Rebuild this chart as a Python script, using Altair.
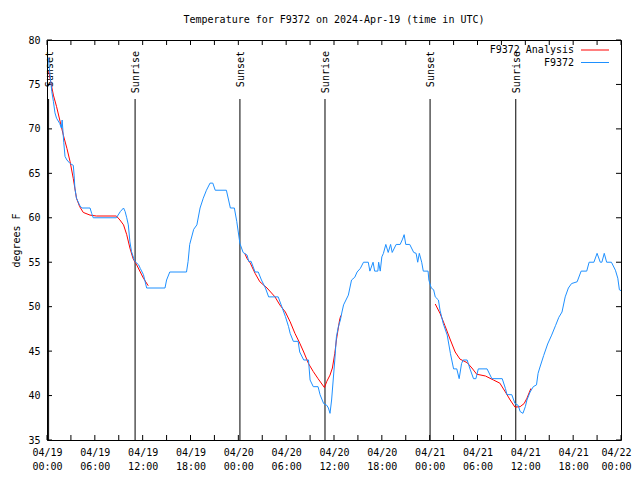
import altair as alt
import pandas as pd

# ---- data (hours after 2024-04-19 00:00 UTC) ----
obs_hours = [0.17, 0.3, 0.45, 0.6, 0.8, 1.0, 1.2, 1.6, 1.8, 1.9, 2.1, 2.26, 2.5, 2.9, 3.3, 3.4, 3.5, 3.7, 3.9, 4.1,
             4.35, 5.4, 5.6, 5.8, 8.7, 9.2, 9.6, 9.8, 10.0, 10.2, 10.4, 10.6, 11.0, 11.5, 11.7, 12.1, 12.5, 14.8, 15.0, 15.4,
             17.5, 17.7, 17.9, 18.4, 18.8, 19.2, 19.6, 20.0, 20.45, 20.8, 21.1, 22.5, 23.0, 23.5, 23.8, 24.2, 24.6, 25.1, 25.3, 25.6,
             26.1, 26.5, 26.9, 27.4, 27.8, 29.0, 29.45, 29.9, 30.3, 30.5, 30.9, 31.5, 31.7, 32.2, 32.8, 33.0, 33.4, 34.0, 34.25, 34.7,
             35.1, 35.3, 35.5, 35.7, 35.9, 36.1, 36.3, 36.55, 36.8, 37.0, 37.2, 37.8, 38.2, 38.6, 38.9, 39.3, 39.7, 40.3, 40.5, 40.9,
             41.1, 41.5, 41.6, 41.8, 42.0, 42.2, 42.5, 42.8, 43.1, 43.3, 43.8, 44.3, 44.6, 44.8, 45.0, 45.5, 46.0, 46.3, 46.5, 46.7,
             47.0, 47.2, 47.8, 47.9, 48.2, 48.5, 48.7, 49.1, 49.3, 49.7, 50.2, 50.6, 51.0, 51.4, 51.7, 52.0, 52.2, 52.7, 53.1, 53.5,
             53.8, 54.1, 55.2, 55.8, 57.1, 57.5, 57.7, 58.3, 58.7, 59.1, 59.35, 59.7, 60.0, 60.2, 60.6, 61.0, 61.4, 61.6, 61.8, 62.3,
             62.8, 63.3, 63.8, 64.2, 64.6, 65.0, 65.4, 65.8, 66.5, 67.0, 67.7, 68.0, 68.6, 69.0, 69.4, 69.6, 69.9, 70.2, 70.8, 71.3,
             71.6, 71.8, 72.0]
obs_temps = [78.0, 76.8, 75.5, 74.2, 73.1, 71.8, 71.2, 70.6, 70.1, 71.0, 68.5, 66.9, 66.5, 66.1, 65.9, 64.8, 63.3, 62.2, 61.8, 61.4,
             61.1, 61.1, 60.5, 60.0, 60.0, 60.7, 61.1, 60.7, 60.0, 59.2, 57.3, 56.2, 55.1, 54.7, 54.3, 53.6, 52.1, 52.1, 53.0, 53.9,
             53.9, 55.1, 57.0, 58.7, 59.2, 61.1, 62.2, 63.1, 63.9, 63.9, 63.1, 63.1, 61.1, 61.1, 59.6, 57.1, 56.1, 55.8, 55.1, 55.1,
             53.9, 53.9, 53.0, 52.1, 51.1, 51.1, 50.0, 48.9, 47.75, 47.0, 46.1, 46.1, 44.9, 44.0, 44.0, 41.75, 41.0, 41.0, 40.1, 39.1,
             38.9, 38.6, 38.0, 39.5, 41.75, 44.0, 46.6, 47.75, 48.5, 49.4, 50.2, 51.3, 53.0, 53.3, 53.9, 54.3, 55.0, 55.0, 54.0, 55.0,
             54.0, 54.0, 55.0, 54.0, 55.6, 56.0, 57.0, 56.1, 57.0, 56.1, 57.0, 57.0, 57.6, 58.1, 57.0, 57.0, 56.1, 56.0, 55.0, 56.0,
             55.0, 54.0, 54.0, 53.0, 52.1, 51.9, 51.1, 50.75, 49.6, 48.1, 46.8, 44.75, 43.0, 43.0, 41.9, 43.6, 44.0, 44.0, 42.9, 41.9,
             41.9, 43.0, 43.0, 41.9, 41.9, 40.8, 40.1, 40.1, 39.1, 38.9, 38.2, 38.0, 38.75, 39.5, 40.4, 41.0, 41.2, 42.5, 43.1, 44.5,
             45.8, 46.8, 47.9, 48.8, 49.4, 51.1, 52.1, 52.6, 52.8, 54.0, 54.0, 55.0, 55.0, 56.0, 55.0, 55.0, 56.0, 55.0, 55.0, 54.1,
             53.2, 51.9, 51.8]

ana_hours = [0.2, 0.38, 0.8, 1.2, 1.6, 2.05, 2.5, 2.9, 3.3, 3.7, 4.1, 4.55, 5.4, 6.2, 8.7, 9.15, 9.6, 10.0, 10.4, 10.8,
             11.25, 11.7, 12.1, 12.7,
             24.8, 25.1, 25.5, 26.1, 26.7, 27.6, 28.6, 29.2, 29.9, 30.5, 31.1, 31.7, 32.2, 32.8, 33.4, 34.0, 34.8, 35.1, 35.5, 35.8,
             36.1, 36.3, 36.7, 36.85,
             48.7, 49.3, 49.9, 50.6, 51.2, 51.8, 52.7, 53.3, 53.9, 55.0, 56.0, 56.8, 57.5, 58.1, 58.7, 59.35, 59.85, 60.2, 60.7]
ana_temps = [76.5, 75.7, 73.8, 72.5, 71.0, 69.3, 67.8, 66.3, 64.4, 62.2, 61.25, 60.6, 60.3, 60.2, 60.2, 59.75, 59.2, 58.1, 56.6, 55.4,
             54.7, 53.9, 53.2, 52.35,
             56.0, 55.4, 54.9, 53.75, 52.8, 52.1, 51.1, 50.2, 49.4, 48.3, 47.0, 45.9, 44.9, 43.6, 42.7, 41.9, 40.9, 41.6, 42.3, 43.1,
             44.75, 46.25, 48.5, 49.0,
             50.3, 49.25, 47.9, 46.25, 44.9, 44.1, 43.7, 43.1, 42.4, 42.2, 41.75, 41.4, 40.4, 39.5, 38.7, 38.75, 39.1, 39.7, 40.8]
ana_segments = [1] * 24 + [2] * 24 + [3] * 19

sun_hours = [0.2, 11.05, 24.2, 34.87, 48.05, 58.8]
sun_labels = ["Sunset", "Sunrise", "Sunset", "Sunrise", "Sunset", "Sunrise"]

x_label_hours = list(range(0, 73, 6))
x_tick_hours = list(range(0, 73, 3))
y_tick_values = list(range(35, 81, 5))

legend_labels = ["F9372 Analysis", "F9372"]
legend_colors = ["#FF0000", "#1E90FF"]

# ---- helpers ----
base = pd.Timestamp("2024-04-19T00:00:00")
def iso(h):
    return (base + pd.to_timedelta(h, unit="h")).strftime("%Y-%m-%dT%H:%M:%SZ")
def ms(h):
    return int((base + pd.to_timedelta(h, unit="h")).value // 10**6)

obs = pd.DataFrame({"time": [iso(h) for h in obs_hours], "temp": obs_temps})
ana = pd.DataFrame({"time": [iso(h) for h in ana_hours], "temp": ana_temps, "seg": ana_segments})
sun = pd.DataFrame({"time": [iso(h) for h in sun_hours], "label": sun_labels})
xt = pd.DataFrame({"time": [iso(h) for h in x_tick_hours]})
yt = pd.DataFrame({"v": y_tick_values})

FONT = "DejaVu Sans Mono"
W, H = 574, 400

xscale = alt.Scale(type="utc", domain=[ms(0), ms(72)], nice=False)
yscale = alt.Scale(domain=[35, 80], nice=False, zero=False)
xaxis = alt.Axis(values=[ms(h) for h in x_label_hours], title=None, grid=False, ticks=False, domain=False,
                 labelExpr="[utcFormat(datum.value, '%m/%d'), utcFormat(datum.value, '%H:%M')]",
                 labelPadding=7, labelLineHeight=14, labelBaseline="top", labelFlush=False,
                 labelOffset={"condition": {"test": f"datum.value >= {ms(72)}", "value": -5}, "value": 0},
                 labelFont=FONT, labelFontSize=10, labelColor="black")
yaxis = alt.Axis(values=y_tick_values, title="degrees F", titlePadding=6, labelPadding=7,
                 grid=False, ticks=False, domain=False,
                 labelFont=FONT, labelFontSize=10, labelColor="black",
                 titleFontWeight="normal", titleFontSize=10, titleFont=FONT, titleColor="black")

def X(field):
    return alt.X(field, scale=xscale, axis=xaxis)
def Y(field):
    return alt.Y(field, scale=yscale, axis=yaxis)

blue = alt.Chart(obs).mark_line(color="#1E90FF", strokeWidth=1).encode(x=X("time:T"), y=Y("temp:Q"))
red = alt.Chart(ana).mark_line(color="#FF0000", strokeWidth=1).encode(x=X("time:T"), y=Y("temp:Q"), detail="seg:N")

sun_rules = alt.Chart(sun).mark_rule(color="black", strokeWidth=1).encode(
    x=X("time:T"), y=alt.value(59), y2=alt.value(H))
sun_text = alt.Chart(sun).mark_text(angle=270, align="right", baseline="middle", font=FONT, fontSize=10,
                                    color="black", dy=1).encode(
    x=X("time:T"), y=alt.value(11), text="label:N")

xt_bottom = alt.Chart(xt).mark_rule(color="black").encode(x=X("time:T"), y=alt.value(H), y2=alt.value(H - 5))
xt_top = alt.Chart(xt).mark_rule(color="black").encode(x=X("time:T"), y=alt.value(0), y2=alt.value(5))
yt_left = alt.Chart(yt).mark_rule(color="black").encode(y=Y("v:Q"), x=alt.value(0), x2=alt.value(5))
yt_right = alt.Chart(yt).mark_rule(color="black").encode(y=Y("v:Q"), x=alt.value(W), x2=alt.value(W - 5))

leg_layers = []
for i, (lab, col) in enumerate(zip(legend_labels, legend_colors)):
    yy = 10 + 12.5 * i
    leg_df = pd.DataFrame({"label": [lab]})
    leg_layers.append(alt.Chart(leg_df).mark_text(align="right", baseline="middle", font=FONT, fontSize=10,
                                                  color="black").encode(
        x=alt.value(527), y=alt.value(yy), text="label:N"))
    leg_layers.append(alt.Chart(leg_df).mark_rule(color=col, strokeWidth=1).encode(
        x=alt.value(534), x2=alt.value(562), y=alt.value(yy)))

chart = alt.layer(xt_bottom, xt_top, yt_left, yt_right, sun_rules, sun_text, red, blue, *leg_layers).properties(
    width=W, height=H,
    title=alt.TitleParams("Temperature for F9372 on 2024-Apr-19 (time in UTC)", font=FONT, fontSize=10,
                          fontWeight="normal", anchor="middle", offset=10, color="black"),
    autosize=alt.AutoSizeParams(type="none"),
    padding={"left": 39, "top": 32, "right": 11, "bottom": 40},
    background="white",
).configure_view(stroke="black", strokeWidth=1).configure_axis(
    grid=False, ticks=False, domain=False
)

chart.save("out.html", embed_options={"renderer": "svg", "actions": False})
